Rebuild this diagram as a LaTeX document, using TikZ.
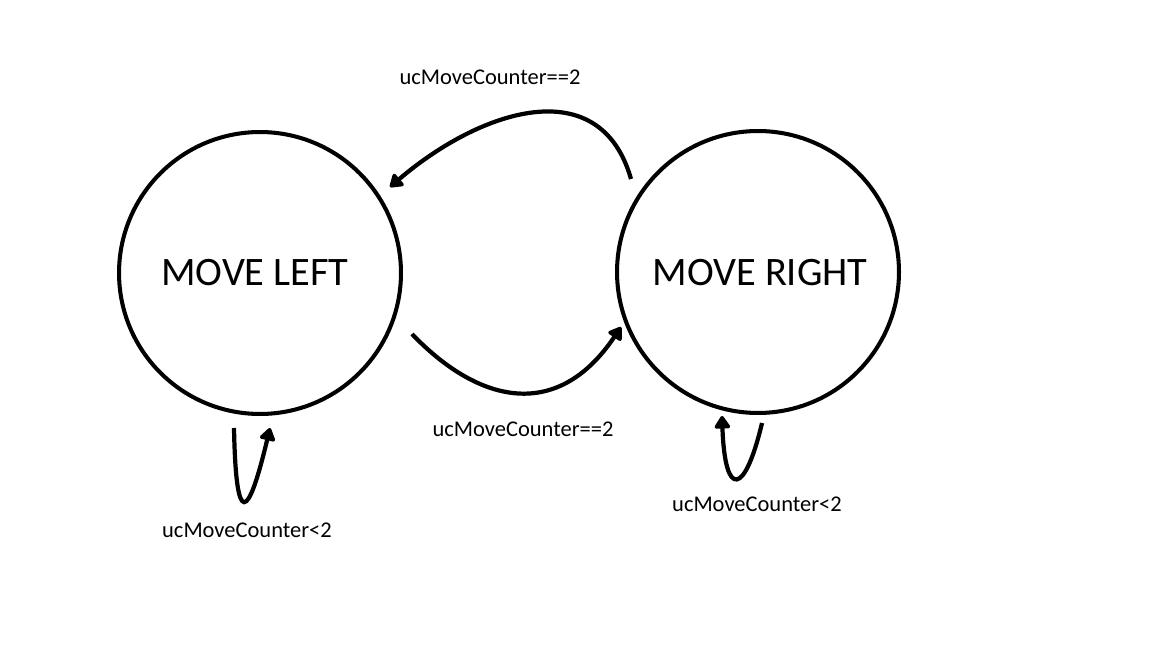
\documentclass[tikz,border=0pt]{standalone}
\usepackage{fontspec}
\setmainfont{Carlito}
\usetikzlibrary{arrows.meta}

\begin{document}
\begin{tikzpicture}[x=0.02cm, y=-0.02cm,
  state/.style={circle, draw=black, line width=2.3pt, minimum size=5.64cm,
    inner sep=0},
  statename/.style={font=\fontsize{23}{27}\selectfont, inner sep=0},
  trans/.style={black, line width=2.4pt, -{Triangle[length=8pt, width=10pt, round]}},
  cond/.style={font=\fontsize{12.8}{15}\selectfont, inner sep=1}]
\useasboundingbox (0,0) rectangle (1152,648);
\node[state] (left) at (260,273) {};
\node[state] (right) at (758,272) {};
\node[statename] (left-name) at (255,273) {MOVE LEFT};
\node[statename] (right-name) at (760,273) {MOVE RIGHT};
% end points of the arcs
\coordinate (rl-from) at (631,179);
\coordinate (rl-to) at (390,187);
\coordinate (lr-from) at (412,334);
\coordinate (lr-to) at (621,327);
\coordinate (ll-from) at (234,428);
\coordinate (ll-to) at (270,428);
\coordinate (rr-from) at (762,423);
\coordinate (rr-to) at (722,416);
% transitions
\draw[trans] (rl-from) .. controls (600,70) and (480,110) .. (rl-to);
\draw[trans] (lr-from) .. controls (475,400) and (555,425) .. (lr-to);
\draw[trans] (ll-from) .. controls (236,530) and (248,520) .. (ll-to);
\draw[trans] (rr-from) .. controls (745,495) and (725,500) .. (rr-to);
% conditions
\node[cond] (c-rl) at (490,77) {ucMoveCounter==2};
\node[cond] (c-lr) at (523,429) {ucMoveCounter==2};
\node[cond] (c-ll) at (247,530) {ucMoveCounter<2};
\node[cond] (c-rr) at (757,504) {ucMoveCounter<2};
\end{tikzpicture}
\end{document}
